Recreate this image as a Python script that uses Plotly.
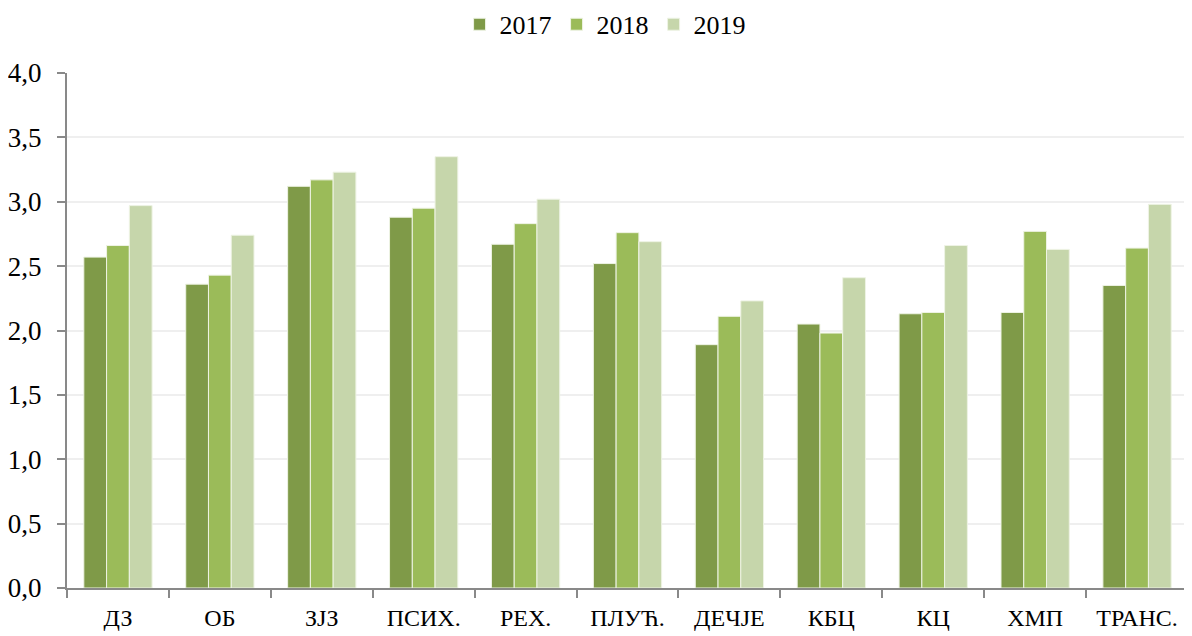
import plotly.graph_objects as go

categories = ['ДЗ', 'ОБ', 'ЗЈЗ', 'ПСИХ.', 'РЕХ.', 'ПЛУЋ.', 'ДЕЧЈЕ', 'КБЦ', 'КЦ', 'ХМП', 'ТРАНС.']
v2017 = [2.57, 2.36, 3.12, 2.88, 2.67, 2.52, 1.89, 2.05, 2.13, 2.14, 2.35]
v2018 = [2.66, 2.43, 3.17, 2.95, 2.83, 2.76, 2.11, 1.98, 2.14, 2.77, 2.64]
v2019 = [2.97, 2.74, 3.23, 3.35, 3.02, 2.69, 2.23, 2.41, 2.66, 2.63, 2.98]

font = 'Liberation Serif, Times New Roman, serif'

fig = go.Figure()
for name, vals, col in [('2017', v2017, '#7F9A48'),
                        ('2018', v2018, '#9BBB59'),
                        ('2019', v2019, '#C6D6AB')]:
    fig.add_trace(go.Bar(x=categories, y=vals, name=name,
                         marker=dict(color=col, line=dict(color='#EEF3E4', width=1))))

# page body has an 8px margin, so the figure is a bit smaller
fig.update_layout(
    width=1184, height=628,
    barmode='group', bargap=0.33, bargroupgap=0,
    separators=',.',
    plot_bgcolor='white', paper_bgcolor='white',
    margin=dict(l=59, r=4, t=65, b=48),
    font=dict(family=font, size=24, color='black'),
    legend=dict(orientation='h', x=0.48, xanchor='center', yref='container', y=0.974, yanchor='middle',
                font=dict(size=26), itemwidth=30, traceorder='normal'),
    xaxis=dict(showline=True, linecolor='#898989', linewidth=2, automargin=False,
               ticks='outside', tickson='boundaries', ticklen=8, tickcolor='#898989', tickwidth=2,
               ticklabelstandoff=7, tickfont=dict(size=24)),
    yaxis=dict(range=[0, 4], dtick=0.5, tickformat='.1f', automargin=False,
               showline=True, linecolor='#898989', linewidth=2,
               ticks='outside', ticklen=8, tickcolor='#898989', tickwidth=2,
               showgrid=True, gridcolor='#EFEFEF', gridwidth=2, zeroline=False,
               ticklabelstandoff=10, tickfont=dict(size=27)),
)

fig.write_html('out.html')
